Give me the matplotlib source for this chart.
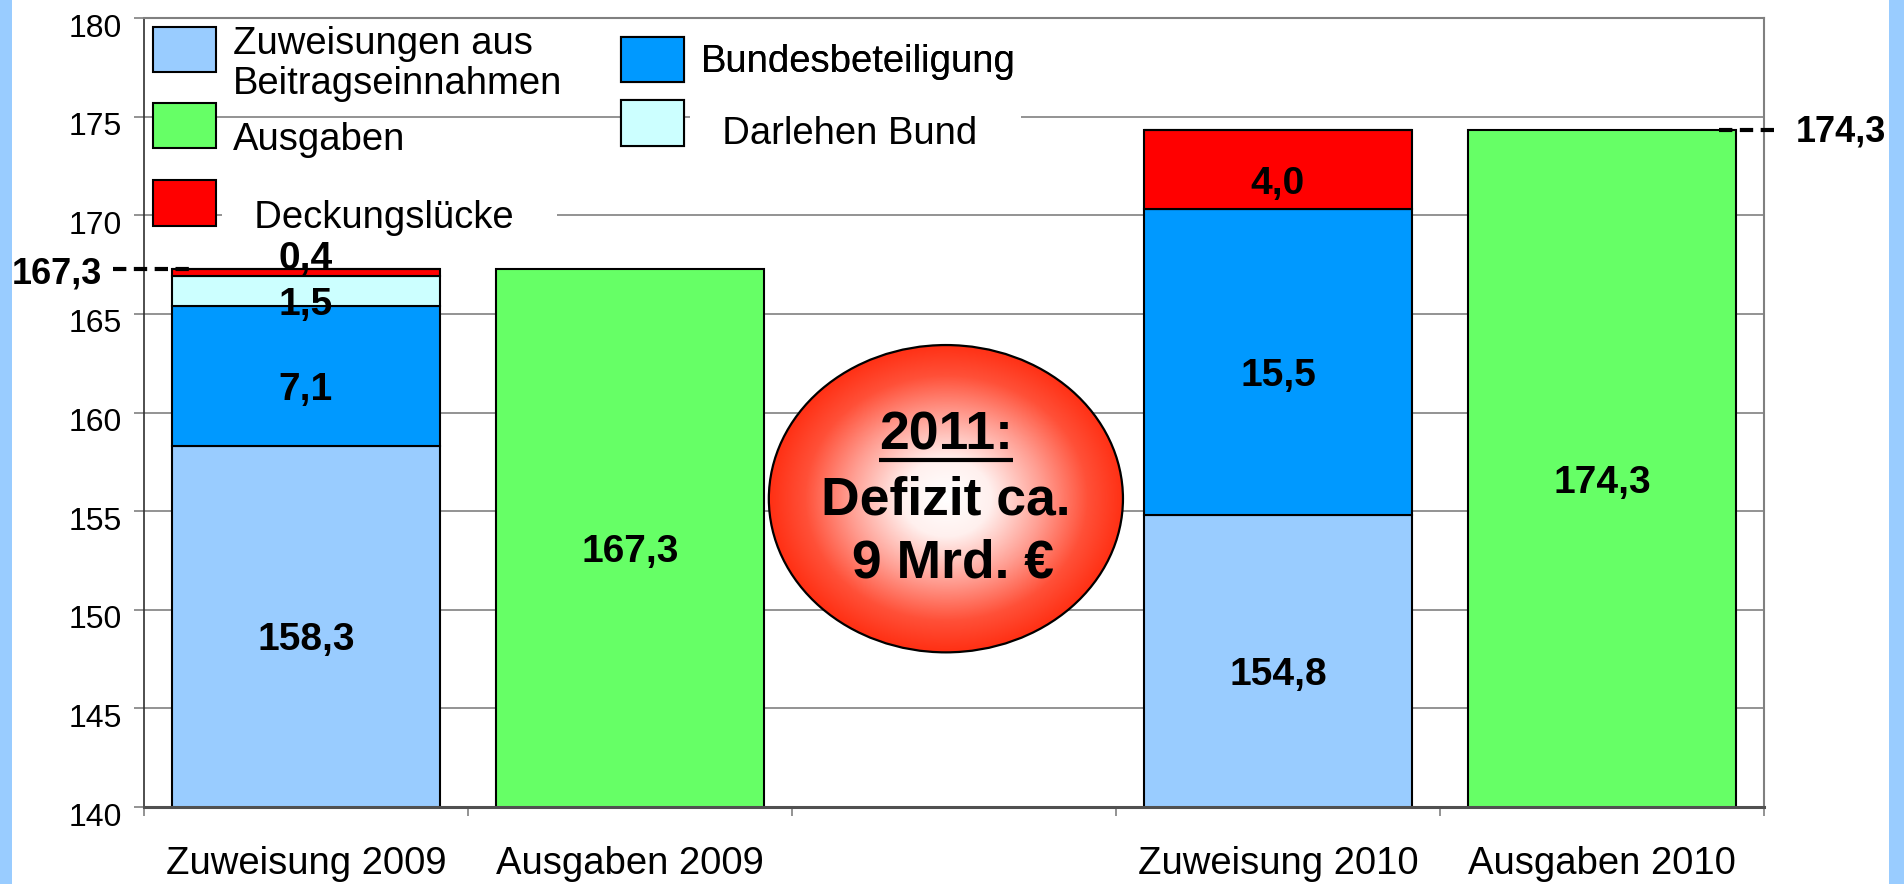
import numpy as np
import matplotlib
matplotlib.use("Agg")
import matplotlib.pyplot as plt
from matplotlib.patches import Ellipse, Rectangle, Patch
from matplotlib.colors import LinearSegmentedColormap
from matplotlib.transforms import ScaledTranslation
from matplotlib.legend_handler import HandlerPatch

plt.rcParams["font.family"] = ["Liberation Sans", "DejaVu Sans"]

# Daten (Mrd. Euro)
kategorien = ["Zuweisung 2009", "Ausgaben 2009", "", "Zuweisung 2010", "Ausgaben 2010"]
beitraege = [158.3, 0, 0, 154.8, 0]
bund = [7.1, 0, 0, 15.5, 0]
darlehen = [1.5, 0, 0, 0, 0]
luecke = [0.4, 0, 0, 4.0, 0]
ausgaben = [0, 167.3, 0, 0, 174.3]
y_ticks = [140, 145, 150, 155, 160, 165, 170, 175, 180]
summe_2009 = 167.3
summe_2010 = 174.3

serien = [
    ("Zuweisungen aus\nBeitragseinnahmen", beitraege, "#99CCFF"),
    ("Bundesbeteiligung", bund, "#0099FF"),
    ("  Darlehen Bund   ", darlehen, "#CCFFFF"),
    ("  Deckungslücke   ", luecke, "#FF0000"),
    ("Ausgaben", ausgaben, "#66FF66"),
]

fig = plt.figure(figsize=(19.04, 8.84), dpi=100, facecolor="white")
ax = fig.add_axes([0.07563, 0.0871, 0.85084, 0.89253])

# blaue Seitenstreifen
fig.patches.append(Rectangle((0, 0), 12 / 1904, 1, transform=fig.transFigure,
                             facecolor="#99CCFF", edgecolor="none", zorder=0))
fig.patches.append(Rectangle((1889 / 1904, 0), 15 / 1904, 1, transform=fig.transFigure,
                             facecolor="#99CCFF", edgecolor="none", zorder=0))

y_min, y_max = 140, 180
x = np.arange(len(kategorien))
boden = np.zeros(len(kategorien))
handles = {}
for name, werte, farbe in serien:
    werte = np.array(werte, dtype=float)
    ax.bar(x, werte, 0.83, bottom=boden, color=farbe, edgecolor="black",
           linewidth=1.5, zorder=2)
    handles[name] = Patch(facecolor=farbe, edgecolor="black", linewidth=1.5)
    for i, v in enumerate(werte):
        if v <= 0:
            continue
        text = f"{v:.1f}".replace(".", ",")
        oben = boden[i] + v
        if v < 1:
            ax.text(x[i], oben, text, ha="center", va="baseline",
                    fontsize=28, fontweight="bold", zorder=7)
        else:
            mitte = (max(boden[i], y_min) + oben) / 2 - 0.7
            ax.text(x[i], mitte, text, ha="center", va="center",
                    fontsize=28, fontweight="bold", zorder=7)
    boden = boden + werte

ax.set_xlim(-0.5, len(kategorien) - 0.5)
ax.set_ylim(y_min, y_max)
ax.set_yticks(y_ticks)
ax.set_yticklabels([str(t) for t in y_ticks], fontsize=23)
ax.set_xticks(x)
ax.set_xticklabels(kategorien, fontsize=27.5)
ax.set_xticks(np.arange(-0.5, len(kategorien), 1), minor=True)
ax.tick_params(axis="x", which="major", length=0, pad=28)
ax.tick_params(axis="x", which="minor", length=6.5, color="#808080", width=1.2)
ax.tick_params(axis="y", length=7, color="#808080", width=1.2, pad=9)
for lab in ax.get_yticklabels():
    lab.set_transform(lab.get_transform() + ScaledTranslation(0, -0.07, fig.dpi_scale_trans))

ax.yaxis.grid(True, color="#808080", linewidth=1.2, zorder=0)
ax.set_axisbelow(True)
ax.spines["top"].set_color("#808080")
ax.spines["top"].set_linewidth(1.5)
ax.spines["right"].set_color("#808080")
ax.spines["right"].set_linewidth(1.5)
ax.spines["left"].set_color("#303030")
ax.spines["left"].set_linewidth(1.2)
ax.spines["bottom"].set_color("#505050")
ax.spines["bottom"].set_linewidth(2.2)

# Summen links und rechts mit gestrichelter Linie
ax.plot([-0.596, -0.343], [summe_2009, summe_2009], color="black", lw=3,
        dashes=(3.2, 1.8), clip_on=False, zorder=6)
ax.text(-0.63, summe_2009 - 0.3, f"{summe_2009:.1f}".replace(".", ","), ha="right",
        va="center", fontsize=26, fontweight="bold", clip_on=False)
ax.plot([4.361, 4.549], [summe_2010, summe_2010], color="black", lw=3,
        dashes=(3.2, 1.8), clip_on=False, zorder=6)
ax.text(4.599, summe_2010 - 0.1, f"{summe_2010:.1f}".replace(".", ","), ha="left",
        va="center", fontsize=26, fontweight="bold", clip_on=False)


# Legende: drei Bloecke wie im Original, Kaestchen leicht nach oben versetzt
def versetzt(dy):
    def kasten(legend, orig_handle, xdescent, ydescent, width, height, fontsize):
        return Rectangle((-xdescent, -ydescent + dy), width, height)
    return HandlerPatch(patch_func=kasten)


leg_kw = dict(fontsize=27.5, frameon=False, handlelength=1.65, handleheight=1.45,
              handletextpad=0.45, borderpad=0, borderaxespad=0, loc="upper left")
bloecke = [
    (["Zuweisungen aus\nBeitragseinnahmen"], [11.4], (0.0056, 0.9904), 0.8),
    (["Ausgaben", "  Deckungslücke   "], [8.7, 8.7], (0.0056, 0.877), 0.84),
    (["Bundesbeteiligung", "  Darlehen Bund   "], [0, 6.1], (0.2944, 0.976), 0.69),
]
for namen, versatz, anker, abstand in bloecke:
    hs = [handles[n] for n in namen]
    leg = ax.legend(hs, namen, bbox_to_anchor=anker, labelspacing=abstand,
                    handler_map={h: versetzt(d) for h, d in zip(hs, versatz)}, **leg_kw)
    for t in leg.get_texts():
        t.set_linespacing(1.15)
        if t.get_text().startswith("  "):
            t.set_bbox(dict(facecolor="white", edgecolor="none", boxstyle="square,pad=0.3"))
    ax.add_artist(leg)

# Ellipse mit Verlauf
ex, ey, ew, eh = 1.975, 155.63, 1.093, 15.58
gx = np.linspace(-1, 1, 400)
gy = np.linspace(-1, 1, 400)
X, Y = np.meshgrid(gx, gy)
R = np.clip(np.sqrt(X ** 2 + Y ** 2), 0, 1)
ball = LinearSegmentedColormap.from_list(
    "ball", [(0, "#ffffff"), (0.25, "#fff0ee"), (0.55, "#ff9c90"),
             (0.8, "#ff5038"), (1, "#ff3014")])
img = ax.imshow(R, cmap=ball, vmin=0, vmax=1, origin="lower", aspect="auto",
                extent=[ex - ew / 2, ex + ew / 2, ey - eh / 2, ey + eh / 2],
                zorder=3, interpolation="bilinear")
ell = Ellipse((ex, ey), ew, eh, facecolor="none", edgecolor="black", lw=1.6, zorder=3.2)
ax.add_patch(ell)
img.set_clip_path(ell)
ax.set_xlim(-0.5, len(kategorien) - 0.5)
ax.set_ylim(y_min, y_max)

t2011 = ax.text(ex, ey + 3.2, "2011:", ha="center", va="center", fontsize=38.5,
                fontweight="bold", zorder=4)
ax.text(ex, ey - 0.1, "Defizit ca.", ha="center", va="center", fontsize=38.5,
        fontweight="bold", zorder=4)
ax.text(ex, ey - 3.3, " 9 Mrd. €", ha="center", va="center", fontsize=38.5,
        fontweight="bold", zorder=4)

# Unterstreichung für "2011:"
fig.canvas.draw()
bb = t2011.get_window_extent(fig.canvas.get_renderer())
inv = ax.transData.inverted()
(x0, y0), (x1, _) = inv.transform([(bb.x0, bb.y0 + 1), (bb.x1, bb.y0 + 1)])
ax.plot([x0, x1], [y0, y0], color="black", lw=3, solid_capstyle="butt", zorder=4)

fig.savefig("out.png", dpi=100, facecolor="white")
